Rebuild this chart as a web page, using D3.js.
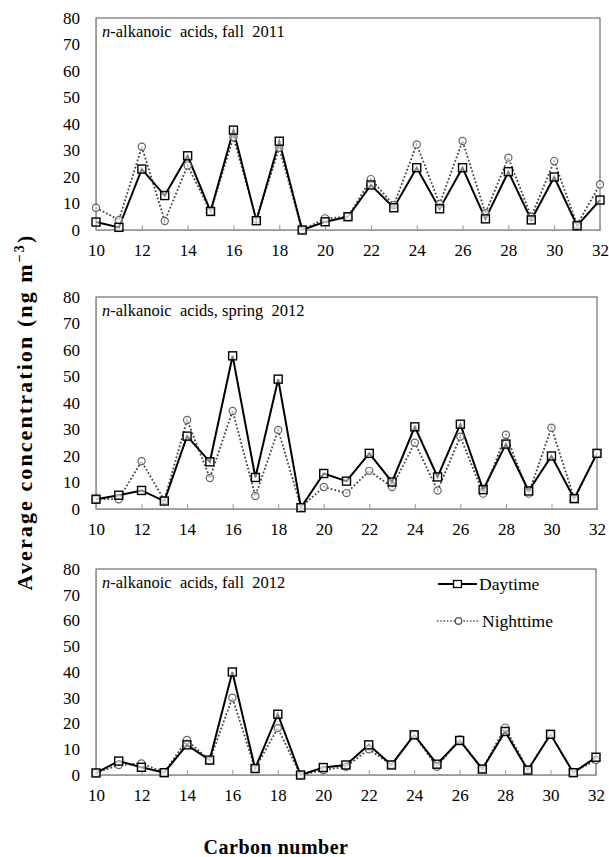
<!DOCTYPE html>
<html><head><meta charset="utf-8">
<script src="https://cdn.jsdelivr.net/npm/d3@7"></script>
<style>body{margin:0;background:#fff}svg{display:block}</style>
</head><body><div id="chart"></div>
<script>
const carbons = d3.range(10, 33);
const xTicks = [10,12,14,16,18,20,22,24,26,28,30,32];
const yTicks = [0,10,20,30,40,50,60,70,80];
const seriesNames = ["Daytime", "Nighttime"];
const panelTitles = ["fall  2011", "spring  2012", "fall  2012"];

const fall2011Day   = [3,1,23,13,28,7,37.7,3.5,33.5,0,3.1,5,17,8.4,23.5,8,23.5,4.2,22,3.8,20,1.6,11.3];
const fall2011Night = [8.4,3.8,31.4,3.4,24.3,7,35,4,31,0,4.4,5,19.2,9.4,32.3,9.8,33.6,6.3,27.3,5,26,2,17.2];
const spring2012Day   = [3.7,5.2,7,3,27.5,17.8,57.8,11.9,49,0.5,13.4,10.5,21,10.2,31,12.1,32,7.3,24.5,6.8,20,3.9,21];
const spring2012Night = [3.7,3.7,18,3.3,33.6,11.7,37,4.9,29.8,0.8,8.3,6,14.4,8.3,25,7,27.3,5.8,28,5.8,30.7,3.9,21];
const fall2012Day   = [0.8,5.4,3,0.9,11.7,5.8,40,2.5,23.6,0,2.9,3.9,11.7,3.9,15.6,4.2,13.4,2.3,16.9,1.9,15.8,0.9,6.9];
const fall2012Night = [0.8,3.9,4.5,1,13.6,5.6,30,2.5,18.2,0,1.9,3.2,10,4,15.6,3.2,13.8,2.3,18.4,2,15.8,1,5.8];

const panelData = [
  [fall2011Day, fall2011Night],
  [spring2012Day, spring2012Night],
  [fall2012Day, fall2012Night]
];
const frames = [
  {left:96, right:600, top:18, bottom:230},
  {left:96, right:597, top:297, bottom:509},
  {left:96, right:596, top:569, bottom:775}
];

const SERIF = '"Liberation Serif","Times New Roman",Times,serif';
const W = 609, H = 857;
const svg = d3.select("#chart").append("svg").attr("width", W).attr("height", H);

panelData.forEach((pd, i) => {
  const f = frames[i];
  const x = d3.scaleLinear().domain([10, 32]).range([f.left, f.right]);
  const y = d3.scaleLinear().domain([0, 80]).range([f.bottom, f.top]);
  const g = svg.append("g");

  g.append("rect").attr("x", f.left).attr("y", f.top)
    .attr("width", f.right - f.left).attr("height", f.bottom - f.top)
    .attr("fill", "none").attr("stroke", "#555").attr("stroke-width", 1);

  const ya = d3.axisLeft(y).tickValues(yTicks).tickSize(0).tickPadding(16);
  const yg = g.append("g").attr("transform", `translate(${f.left},0)`).call(ya);
  yg.select(".domain").attr("stroke", "#999");
  yg.selectAll("text").attr("fill", "#000")
    .style("font-family", SERIF).style("font-size", "17px");

  const xa = d3.axisBottom(x).tickValues(xTicks).tickSize(-5).tickPadding(14);
  const xg = g.append("g").attr("transform", `translate(0,${f.bottom})`).call(xa);
  xg.select(".domain").attr("stroke", "#999");
  xg.selectAll(".tick line").attr("stroke", "#999");
  xg.selectAll("text").attr("fill", "#000")
    .style("font-family", SERIF).style("font-size", "17px");

  const t = g.append("text").attr("x", f.left + 6).attr("y", f.top + 19)
    .style("font-family", SERIF).style("font-size", "16.5px").style("white-space", "pre");
  t.append("tspan").style("font-style", "italic").text("n");
  t.append("tspan").text("-alkanoic  acids, " + panelTitles[i]);

  const line = d3.line().x((d, k) => x(carbons[k])).y(d => y(d));

  g.append("path").datum(pd[1]).attr("d", line).attr("fill", "none")
    .attr("stroke", "#444").attr("stroke-width", 1.8).attr("stroke-dasharray", "1.8,2");
  g.append("path").datum(pd[0]).attr("d", line).attr("fill", "none")
    .attr("stroke", "#000").attr("stroke-width", 2);

  g.selectAll(".night").data(pd[1]).enter().append("circle")
    .attr("cx", (d, k) => x(carbons[k])).attr("cy", d => y(d)).attr("r", 3.6)
    .attr("fill", "#fff").attr("fill-opacity", 0.6).attr("stroke", "#666").attr("stroke-width", 1.2);
  g.selectAll(".day").data(pd[0]).enter().append("rect")
    .attr("x", (d, k) => x(carbons[k]) - 4).attr("y", d => y(d) - 4)
    .attr("width", 8).attr("height", 8)
    .attr("fill", "#fff").attr("fill-opacity", 0.5).attr("stroke", "#000").attr("stroke-width", 1.4);

  if (i === 2) {
    const ly1 = 584, ly2 = 621;
    g.append("line").attr("x1", 438).attr("x2", 477).attr("y1", ly1).attr("y2", ly1)
      .attr("stroke", "#000").attr("stroke-width", 2);
    g.append("rect").attr("x", 457.5 - 4).attr("y", ly1 - 3.5).attr("width", 8).attr("height", 7)
      .attr("fill", "#fff").attr("stroke", "#000").attr("stroke-width", 1.3);
    g.append("text").attr("x", 479).attr("y", ly1 + 5.5)
      .style("font-family", SERIF).style("font-size", "17.5px").text(seriesNames[0]);
    g.append("line").attr("x1", 437).attr("x2", 480).attr("y1", ly2).attr("y2", ly2)
      .attr("stroke", "#555").attr("stroke-width", 1.5).attr("stroke-dasharray", "1.5,1.8");
    g.append("circle").attr("cx", 458.5).attr("cy", ly2).attr("r", 3.3)
      .attr("fill", "#fff").attr("stroke", "#555").attr("stroke-width", 1.3);
    g.append("text").attr("x", 482).attr("y", ly2 + 5.5)
      .style("font-family", SERIF).style("font-size", "17.5px").text(seriesNames[1]);
  }
});

const yt = svg.append("text").attr("transform", "translate(32,412) rotate(-90)")
  .attr("text-anchor", "middle")
  .style("font-family", SERIF).style("font-size", "22px").style("font-weight", "bold")
  .style("letter-spacing", "2.1px");
yt.append("tspan").text("Average concentration (ng m");
yt.append("tspan").style("font-size", "14px").attr("dy", -8).text("\u22123");
yt.append("tspan").attr("dy", 8).text(")");

svg.append("text").attr("x", 276).attr("y", 854).attr("text-anchor", "middle")
  .style("font-family", SERIF).style("font-size", "20px").style("font-weight", "bold")
  .style("letter-spacing", "0.5px").text("Carbon number");
</script></body></html>
